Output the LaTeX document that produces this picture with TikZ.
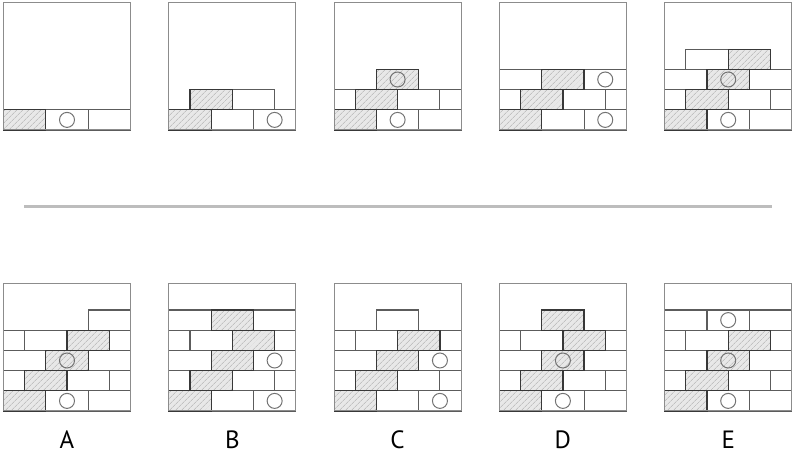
\documentclass[tikz,border=0pt]{standalone}
\usepackage{fontspec}
\usepackage{tikz}
\usetikzlibrary{patterns.meta}
\newfontfamily\labelfont{PT Sans}
\definecolor{brickline}{gray}{0.36}
\definecolor{edgeline}{gray}{0.22}
\definecolor{frameline}{gray}{0.55}
\definecolor{ringline}{gray}{0.45}
\definecolor{hatchfill}{gray}{0.91}
\definecolor{hatchline}{gray}{0.68}
\definecolor{rule}{gray}{0.74}
\tikzset{
  plainbrick/.style={draw=brickline,line width=1.1pt},
  hatchbrick/.style={fill=hatchfill,postaction={pattern={Lines[angle=45,distance=4pt,line width=0.6pt]},pattern color=hatchline}},
  hatchedge/.style={draw=edgeline,line width=1.2pt},
  ring/.style={draw=ringline,line width=1pt},
  panelframe/.style={draw=frameline,line width=1pt},
  optlabel/.style={font=\labelfont\fontsize{25}{25}\selectfont}
}
% #1,#2 lower left corner, #3 plain bricks, #4 hatched bricks, #5 circles
\newcommand{\wallpanel}[5]{%
  \begin{scope}[shift={(#1,#2)},x=21.1667pt,y=20.2pt]
    \foreach \c/\r/\w in {#4} \fill[hatchbrick] (\c,\r) rectangle ++(\w,1);
    \foreach \c/\r/\w in {#3} \draw[plainbrick] (\c,\r) rectangle ++(\w,1);
    \foreach \c/\r/\w in {#4} \draw[hatchedge] (\c,\r) rectangle ++(\w,1);
    \foreach \c/\r in {#5} \draw[ring] (\c,\r) circle (7.5pt);
    \draw[panelframe] (0,0) rectangle (6,6.287);
  \end{scope}}
\begin{document}
\begin{tikzpicture}[x=1pt,y=1pt]
  \useasboundingbox (0,0) rectangle (797,457);

  % top row
  \wallpanel{3.5}{327}{2/0/2,4/0/2}{0/0/2}{3/0.5} %1
  \wallpanel{168.8}{327}{2/0/2,4/0/2,3/1/2}{0/0/2,1/1/2}{5/0.5} %2
  \wallpanel{334.1}{327}{2/0/2,4/0/2,0/1/1,3/1/2,5/1/1}{0/0/2,1/1/2,2/2/2}{3/0.5,3/2.5} %3
  \wallpanel{499.4}{327}{2/0/2,4/0/2,0/1/1,3/1/2,5/1/1,0/2/2,4/2/2}{0/0/2,1/1/2,2/2/2}{5/0.5,5/2.5} %4
  \wallpanel{664.7}{327}{2/0/2,4/0/2,0/1/1,3/1/2,5/1/1,0/2/2,4/2/2,1/3/2}{0/0/2,1/1/2,2/2/2,3/3/2}{3/0.5,3/2.5} %5

  % separator
  \coordinate (L) at (24,250);
  \coordinate (R) at (772,250);
  \draw[rule,line width=3pt] (L) -- (R);

  % answers
  \wallpanel{3.5}{46}{2/0/2,4/0/2,0/1/1,3/1/2,5/1/1,0/2/2,4/2/2,0/3/1,1/3/2,5/3/1,4/4/2}{0/0/2,1/1/2,2/2/2,3/3/2}{3/0.5,3/2.5} %A
  \wallpanel{168.8}{46}{2/0/2,4/0/2,0/1/1,3/1/2,5/1/1,0/2/2,4/2/2,0/3/1,1/3/2,5/3/1,0/4/2,4/4/2}{0/0/2,1/1/2,2/2/2,3/3/2,2/4/2}{5/0.5,5/2.5} %B
  \wallpanel{334.1}{46}{2/0/2,4/0/2,0/1/1,3/1/2,5/1/1,0/2/2,4/2/2,0/3/1,1/3/2,5/3/1,2/4/2}{0/0/2,1/1/2,2/2/2,3/3/2}{5/0.5,5/2.5} %C
  \wallpanel{499.4}{46}{2/0/2,4/0/2,0/1/1,3/1/2,5/1/1,0/2/2,4/2/2,0/3/1,1/3/2,5/3/1}{0/0/2,1/1/2,2/2/2,3/3/2,2/4/2}{3/0.5,3/2.5} %D
  \wallpanel{664.7}{46}{2/0/2,4/0/2,0/1/1,3/1/2,5/1/1,0/2/2,4/2/2,0/3/1,1/3/2,5/3/1,0/4/2,2/4/2,4/4/2}{0/0/2,1/1/2,2/2/2,3/3/2}{3/0.5,3/2.5,3/4.5} %E

  \foreach \n [count=\i from 0] in {A,B,C,D,E}
    \node[optlabel] (lab\n) at (67+165.3*\i,17) {\n};
\end{tikzpicture}
\end{document}
